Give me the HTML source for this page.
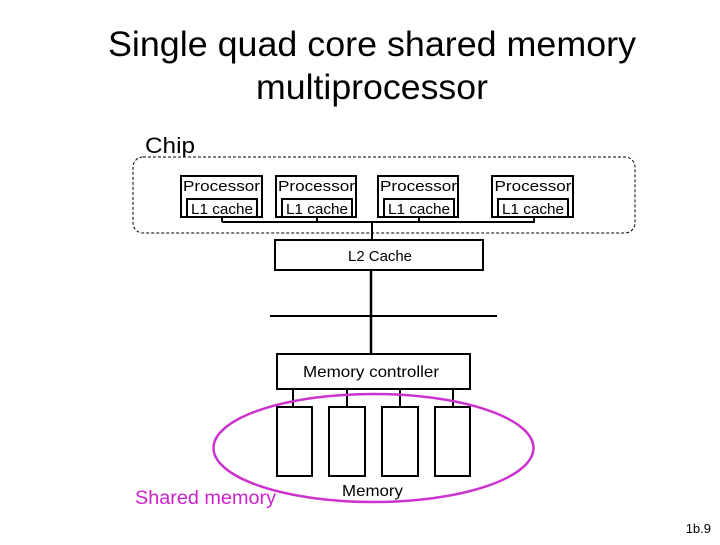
<!DOCTYPE html>
<html><head><style>
body{margin:0;background:#fff;width:720px;height:540px;overflow:hidden;font-family:"Liberation Sans",sans-serif}
</style></head><body>
<svg width="720" height="540" xmlns="http://www.w3.org/2000/svg" font-family="Liberation Sans, sans-serif">
<text x="372" y="56" font-size="35" text-anchor="middle" textLength="528" lengthAdjust="spacingAndGlyphs">Single quad core shared memory</text>
<text x="372" y="99" font-size="35" text-anchor="middle" textLength="232" lengthAdjust="spacingAndGlyphs">multiprocessor</text>
<text x="145" y="153" font-size="22" textLength="50" lengthAdjust="spacingAndGlyphs">Chip</text>
<rect x="133" y="157" width="502" height="76" rx="10" fill="none" stroke="#000" stroke-dasharray="3,2"/>
<g fill="none" stroke="#000" stroke-width="2">
<rect x="181" y="176" width="81" height="41"/><rect x="187" y="199" width="70" height="18"/>
<rect x="276" y="176" width="80" height="41"/><rect x="282" y="199" width="70" height="18"/>
<rect x="378" y="176" width="80" height="41"/><rect x="384" y="199" width="70" height="18"/>
<rect x="492" y="176" width="81" height="41"/><rect x="498" y="199" width="70" height="18"/>
</g>
<g font-size="15" text-anchor="middle" lengthAdjust="spacingAndGlyphs">
<text x="221.5" y="191" textLength="77" lengthAdjust="spacingAndGlyphs">Processor</text><text x="222" y="214" textLength="62" lengthAdjust="spacingAndGlyphs">L1 cache</text>
<text x="316.5" y="191" textLength="77" lengthAdjust="spacingAndGlyphs">Processor</text><text x="317" y="214" textLength="62" lengthAdjust="spacingAndGlyphs">L1 cache</text>
<text x="418.5" y="191" textLength="77" lengthAdjust="spacingAndGlyphs">Processor</text><text x="419" y="214" textLength="62" lengthAdjust="spacingAndGlyphs">L1 cache</text>
<text x="533" y="191" textLength="77" lengthAdjust="spacingAndGlyphs">Processor</text><text x="533" y="214" textLength="62" lengthAdjust="spacingAndGlyphs">L1 cache</text>
</g>
<g stroke="#000" stroke-width="2" fill="none">
<line x1="222" y1="222" x2="535" y2="222"/>
<line x1="222" y1="217" x2="222" y2="222"/><line x1="317" y1="217" x2="317" y2="222"/>
<line x1="419" y1="217" x2="419" y2="222"/><line x1="534" y1="217" x2="534" y2="222"/>
<line x1="372" y1="222" x2="372" y2="240"/>
<rect x="275" y="240" width="208" height="30"/>
<line x1="371" y1="270" x2="371" y2="354" stroke-width="2.5"/>
<line x1="270" y1="316" x2="497" y2="316"/>
<rect x="277" y="354" width="193" height="35"/>
<line x1="293" y1="389" x2="293" y2="407"/><line x1="347" y1="389" x2="347" y2="407"/>
<line x1="400" y1="389" x2="400" y2="407"/><line x1="453" y1="389" x2="453" y2="407"/>
<rect x="277" y="407" width="35" height="69"/><rect x="329" y="407" width="36" height="69"/>
<rect x="382" y="407" width="36" height="69"/><rect x="435" y="407" width="35" height="69"/>
</g>
<text x="380" y="261" font-size="15" text-anchor="middle" textLength="64" lengthAdjust="spacingAndGlyphs">L2 Cache</text>
<text x="371" y="377" font-size="16" text-anchor="middle" textLength="136" lengthAdjust="spacingAndGlyphs">Memory controller</text>
<text x="372.5" y="496" font-size="16" text-anchor="middle" textLength="61" lengthAdjust="spacingAndGlyphs">Memory</text>
<ellipse cx="373.5" cy="448" rx="160" ry="54" fill="none" stroke="#cc33cc" stroke-width="2.5"/>
<text x="135" y="504" font-size="19" fill="#cc22cc" textLength="141" lengthAdjust="spacingAndGlyphs">Shared memory</text>
<text x="711" y="533" font-size="13" text-anchor="end">1b.9</text>
</svg>
</body></html>
